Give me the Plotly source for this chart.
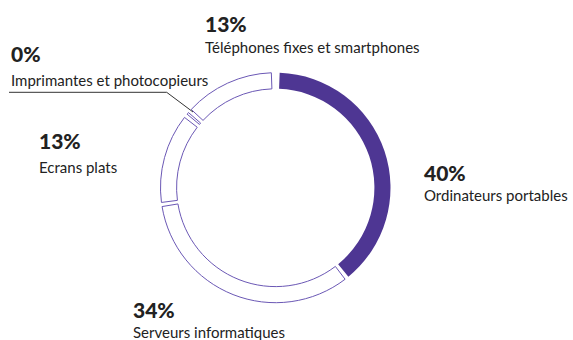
import plotly.graph_objects as go

W, H = 573, 340

categories = ["Ordinateurs portables", "Serveurs informatiques", "Ecrans plats",
              "Imprimantes et photocopieurs", "Téléphones fixes et smartphones"]
values = [40, 34, 13, 0.3, 13]
filled = [True, False, False, False, False]

PURPLE = "#4E3693"
OUTLINE = "#6B58B5"
TEXT = "#222222"

# gaps between slices (in value units) - style only
gap_small = 0.6
gap_top = 1.2

vals, cols, lcols, lwid = [], [], [], []
def add_gap(g):
    vals.append(g); cols.append("rgba(0,0,0,0)"); lcols.append("rgba(0,0,0,0)"); lwid.append(0)

add_gap(gap_top / 2)
for i, (v, f) in enumerate(zip(values, filled)):
    vals.append(v)
    if f:
        cols.append(PURPLE); lcols.append(PURPLE); lwid.append(0)
    else:
        cols.append("white"); lcols.append(OUTLINE); lwid.append(1)
    if i < len(values) - 1:
        add_gap(gap_small)
add_gap(gap_top / 2)

cx, cy, R = 275.5, 187.7, 115
fig = go.Figure(go.Pie(
    values=vals,
    sort=False,
    direction="clockwise",
    rotation=0,
    hole=0.86,
    textinfo="none",
    hoverinfo="skip",
    showlegend=False,
    marker=dict(colors=cols, line=dict(color=lcols, width=lwid)),
    domain=dict(x=[(cx - R) / W, (cx + R) / W], y=[1 - (cy + R) / H, 1 - (cy - R) / H]),
))

def px(x, y):
    return x / W, 1 - y / H

# label positions (pixel): (x, y_pct, y_label)
label_pos = {
    "Ordinateurs portables": (422, 172, 195),
    "Serveurs informatiques": (131, 309, 332),
    "Ecrans plats": (37, 140, 167),
    "Imprimantes et photocopieurs": (9, 53, 80),
    "Téléphones fixes et smartphones": (203, 24, 47),
}

annotations = []
for cat, v in zip(categories, values):
    x, yp, yl = label_pos[cat]
    ax, ayp = px(x, yp)
    _, ayl = px(x, yl)
    annotations.append(dict(x=ax, y=ayp, xref="paper", yref="paper", xanchor="left", yanchor="middle",
                            text=f"{round(v)}%", showarrow=False,
                            font=dict(family="Lato", size=21, color=TEXT, weight=900)))
    annotations.append(dict(x=ax, y=ayl, xref="paper", yref="paper", xanchor="left", yanchor="middle",
                            text=cat, showarrow=False,
                            font=dict(family="Lato", size=15, color=TEXT)))

# leader line for the tiny slice
p1 = px(9, 92.3); p2 = px(166.7, 92.3); p3 = px(193, 112)
shapes = [dict(type="path", xref="paper", yref="paper",
               path=f"M {p1[0]} {p1[1]} L {p2[0]} {p2[1]} L {p3[0]} {p3[1]}",
               line=dict(color="#333333", width=1))]

fig.update_layout(
    width=W, height=H,
    margin=dict(l=0, r=0, t=0, b=0),
    paper_bgcolor="white", plot_bgcolor="white",
    annotations=annotations, shapes=shapes,
)

fig.write_html("out.html")
